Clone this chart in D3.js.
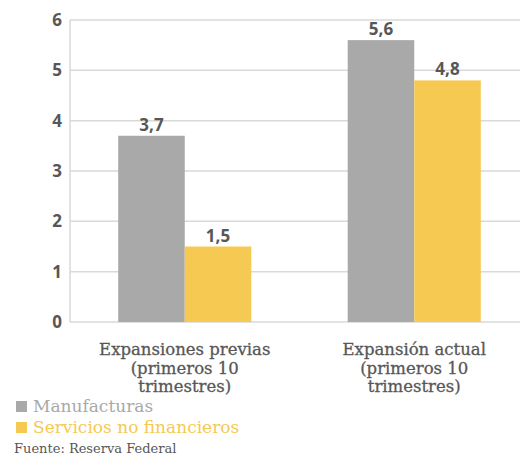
<!DOCTYPE html>
<html>
<head>
<meta charset="utf-8">
<script src="https://cdn.jsdelivr.net/npm/d3@7"></script>
<style>
  html, body { margin: 0; padding: 0; background: #fff; }
  svg { display: block; }
</style>
</head>
<body>
<svg id="chart" width="520" height="456"></svg>
<script>
// Categories (each label split into lines)
const categories = ["Expansiones previas", "Expansión actual"];
const categoryLines = [
  ["Expansiones previas", "(primeros 10", "trimestres)"],
  ["Expansión actual", "(primeros 10", "trimestres)"]
];
const seriesNames = ["Manufacturas", "Servicios no financieros"];
const manufacturas = [3.7, 5.6];
const servicios = [1.5, 4.8];
const yTicks = [0, 1, 2, 3, 4, 5, 6];
const colors = ["#A9A9A9", "#F6C952"];
const source = "Fuente: Reserva Federal";

const svg = d3.select("#chart");
const serif = "'DejaVu Serif', serif";
const sans = "'Open Sans', sans-serif";
const textColor = "#575757";

const margin = { left: 70, top: 20, right: -9, bottom: 134 };
const width = 520 - margin.left - margin.right;
const height = 456 - margin.top - margin.bottom;

const g = svg.append("g").attr("transform", `translate(${margin.left},${margin.top})`);

const x0 = d3.scaleBand().domain(categories).range([0, width]).paddingInner(0.42).paddingOuter(0.21);
const x1 = d3.scaleBand().domain(seriesNames).range([0, x0.bandwidth()]);
const y = d3.scaleLinear().domain([0, 6]).range([height, 0]);

// Horizontal gridlines
g.append("g").selectAll("line").data(yTicks).join("line")
  .attr("x1", 0).attr("x2", width)
  .attr("y1", d => y(d)).attr("y2", d => y(d))
  .attr("stroke", "#d9d9d9").attr("stroke-width", 1.5);

// Left axis line
g.append("line").attr("x1", 0).attr("x2", 0).attr("y1", 0).attr("y2", height)
  .attr("stroke", "#d9d9d9").attr("stroke-width", 1.5);

// Y axis labels
const yAxis = d3.axisLeft(y).tickValues(yTicks).tickSize(0).tickPadding(8).tickFormat(d3.format("d"));
const ya = g.append("g").call(yAxis);
ya.select(".domain").remove();
ya.selectAll("text")
  .attr("font-family", sans).attr("font-size", 17).attr("font-weight", 700)
  .attr("fill", textColor);

// Bars
const rows = categories.map((c, i) => ({ cat: c, values: [manufacturas[i], servicios[i]] }));
const groups = g.selectAll(".grp").data(rows).join("g")
  .attr("transform", d => `translate(${x0(d.cat)},0)`);

groups.selectAll("rect").data(d => d.values.map((v, j) => ({ v, s: seriesNames[j], j })))
  .join("rect")
  .attr("x", d => x1(d.s))
  .attr("y", d => y(d.v))
  .attr("width", x1.bandwidth())
  .attr("height", d => y(0) - y(d.v))
  .attr("fill", d => colors[d.j]);

const fmt = v => d3.format(".1f")(v).replace(".", ",");
groups.selectAll("text.val").data(d => d.values.map((v, j) => ({ v, s: seriesNames[j] })))
  .join("text").attr("class", "val")
  .attr("x", d => x1(d.s) + x1.bandwidth() / 2)
  .attr("y", d => y(d.v) - 5)
  .attr("text-anchor", "middle")
  .attr("font-family", sans).attr("font-size", 17).attr("font-weight", 700)
  .attr("fill", textColor)
  .text(d => fmt(d.v));

// Category labels
const catLabels = g.selectAll(".cat").data(categories).join("text")
  .attr("class", "cat")
  .attr("x", d => x0(d) + x0.bandwidth() / 2)
  .attr("y", height + 33)
  .attr("text-anchor", "middle")
  .attr("font-family", serif).attr("font-size", 16.5)
  .attr("fill", textColor)
  .attr("stroke", textColor).attr("stroke-width", 0.3);
catLabels.each(function (d, i) {
  d3.select(this).selectAll("tspan").data(categoryLines[i]).join("tspan")
    .attr("x", x0(d) + x0.bandwidth() / 2)
    .attr("dy", (t, k) => k === 0 ? 0 : 18.5)
    .text(t => t);
});

// Legend
const legend = svg.append("g").attr("transform", "translate(16,0)");
seriesNames.forEach((name, i) => {
  const cy = 406 + i * 21;
  legend.append("rect").attr("x", 0).attr("y", cy - 5).attr("width", 11).attr("height", 11)
    .attr("fill", colors[i]);
  legend.append("text").attr("x", 17).attr("y", cy + 6)
    .attr("font-family", serif).attr("font-size", 17)
    .attr("fill", colors[i]).text(name);
});

// Source
svg.append("text").attr("x", 14).attr("y", 453)
  .attr("font-family", serif).attr("font-size", 13)
  .attr("fill", textColor).text(source);
</script>
</body>
</html>
